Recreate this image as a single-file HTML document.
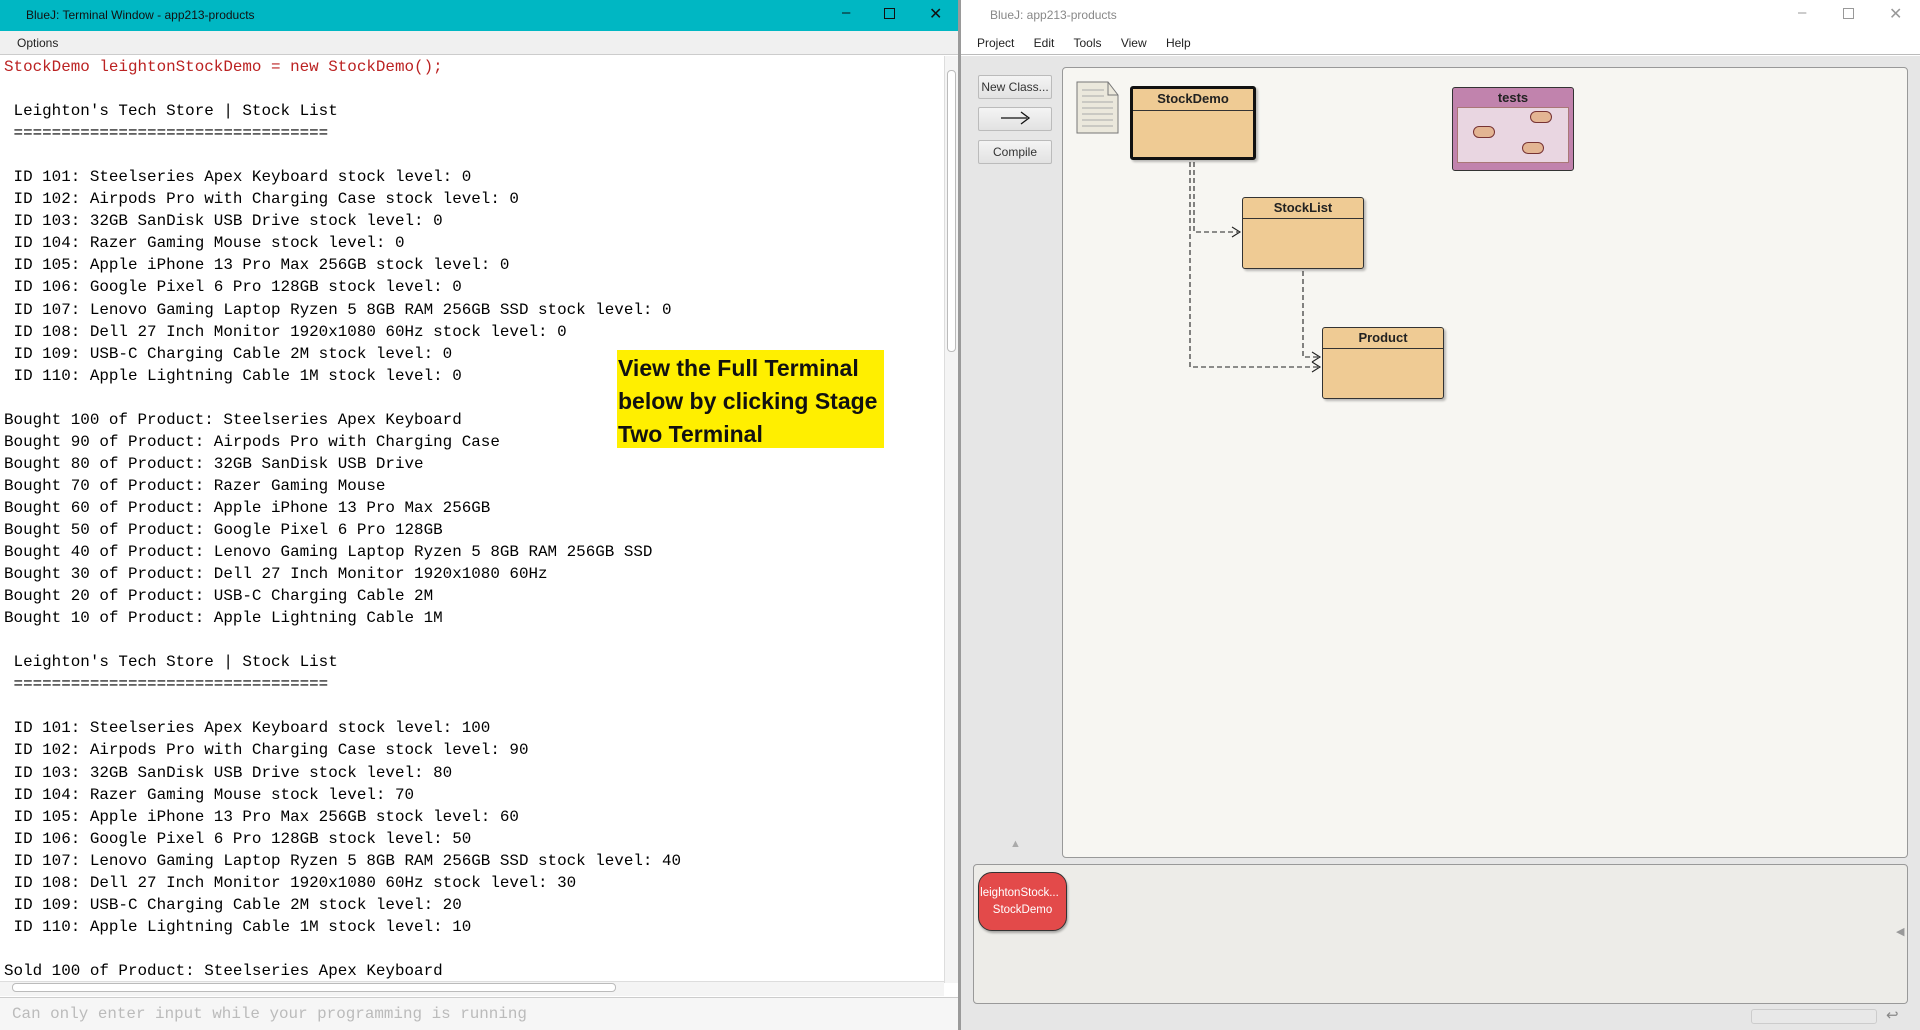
<!DOCTYPE html>
<html><head><meta charset="utf-8"><style>
*{margin:0;padding:0;box-sizing:border-box}
body{width:1920px;height:1030px;overflow:hidden;position:relative;background:#fff;font-family:"Liberation Sans",sans-serif}
.a{position:absolute}
pre{font-family:"Liberation Mono",monospace;font-size:15.9px;line-height:22.04px;color:#000}
.cls{position:absolute;background:#efcb94;border:1.5px solid #333;border-radius:3px;box-shadow:2px 2px 2px rgba(0,0,0,.25)}
.cls .h{height:26px;border-bottom:1.5px solid #333;text-align:center;font-weight:bold;font-size:13px;line-height:25px;color:#222}
.btn{position:absolute;left:978px;width:74px;height:24px;border:1px solid #bbb;border-radius:2px;background:linear-gradient(#f4f4f4,#e2e2e2);font-size:12px;text-align:center;line-height:22px;color:#333}
</style></head><body>
<!-- left window -->
<div class="a" style="left:0;top:0;width:960px;height:31px;background:#00b7c3"></div>
<div class="a" style="left:26px;top:8px;font-size:12px;color:#111">BlueJ: Terminal Window - app213-products</div>
<div class="a" style="left:842px;top:4px;font-size:15px;color:#111">–</div>
<div class="a" style="left:884px;top:8px;width:11px;height:11px;border:1px solid #111"></div>
<div class="a" style="left:929px;top:4px;font-size:16px;color:#111">✕</div>
<div class="a" style="left:0;top:31px;width:960px;height:24px;background:#f0f0f0;border-bottom:1px solid #ccc"></div>
<div class="a" style="left:17px;top:36px;font-size:12px;color:#222">Options</div>
<pre class="a" style="left:4px;top:56px"><span style="color:#b22">StockDemo leightonStockDemo = new StockDemo();</span>

 Leighton's Tech Store | Stock List
 =================================

 ID 101: Steelseries Apex Keyboard stock level: 0
 ID 102: Airpods Pro with Charging Case stock level: 0
 ID 103: 32GB SanDisk USB Drive stock level: 0
 ID 104: Razer Gaming Mouse stock level: 0
 ID 105: Apple iPhone 13 Pro Max 256GB stock level: 0
 ID 106: Google Pixel 6 Pro 128GB stock level: 0
 ID 107: Lenovo Gaming Laptop Ryzen 5 8GB RAM 256GB SSD stock level: 0
 ID 108: Dell 27 Inch Monitor 1920x1080 60Hz stock level: 0
 ID 109: USB-C Charging Cable 2M stock level: 0
 ID 110: Apple Lightning Cable 1M stock level: 0

Bought 100 of Product: Steelseries Apex Keyboard
Bought 90 of Product: Airpods Pro with Charging Case
Bought 80 of Product: 32GB SanDisk USB Drive
Bought 70 of Product: Razer Gaming Mouse
Bought 60 of Product: Apple iPhone 13 Pro Max 256GB
Bought 50 of Product: Google Pixel 6 Pro 128GB
Bought 40 of Product: Lenovo Gaming Laptop Ryzen 5 8GB RAM 256GB SSD
Bought 30 of Product: Dell 27 Inch Monitor 1920x1080 60Hz
Bought 20 of Product: USB-C Charging Cable 2M
Bought 10 of Product: Apple Lightning Cable 1M

 Leighton's Tech Store | Stock List
 =================================

 ID 101: Steelseries Apex Keyboard stock level: 100
 ID 102: Airpods Pro with Charging Case stock level: 90
 ID 103: 32GB SanDisk USB Drive stock level: 80
 ID 104: Razer Gaming Mouse stock level: 70
 ID 105: Apple iPhone 13 Pro Max 256GB stock level: 60
 ID 106: Google Pixel 6 Pro 128GB stock level: 50
 ID 107: Lenovo Gaming Laptop Ryzen 5 8GB RAM 256GB SSD stock level: 40
 ID 108: Dell 27 Inch Monitor 1920x1080 60Hz stock level: 30
 ID 109: USB-C Charging Cable 2M stock level: 20
 ID 110: Apple Lightning Cable 1M stock level: 10

Sold 100 of Product: Steelseries Apex Keyboard</pre>
<div class="a" style="left:944px;top:56px;width:16px;height:927px;background:#f4f4f4;border-left:1px solid #ddd"></div>
<div class="a" style="left:947px;top:70px;width:9px;height:282px;background:#fff;border:1px solid #bbb;border-radius:4px"></div>
<div class="a" style="left:0;top:981px;width:944px;height:15px;background:#f4f4f4;border-top:1px solid #ddd"></div>
<div class="a" style="left:12px;top:983px;width:604px;height:9px;background:#fff;border:1px solid #bbb;border-radius:4px"></div>
<div class="a" style="left:0;top:997px;width:960px;height:33px;background:#f6f6f6;border-top:1px solid #ccc"></div>
<pre class="a" style="left:12px;top:1003px;color:#bbb;font-size:15.9px">Can only enter input while your programming is running</pre>
<div class="a" style="left:617px;top:350px;width:267px;height:98px;background:#ffef00;font-weight:bold;font-size:23px;line-height:33px;padding:2px 0 0 1px;color:#111">View the Full Terminal<br>below by clicking Stage<br>Two Terminal</div>
<div class="a" style="left:958px;top:0;width:3px;height:1030px;background:#9a9a9a"></div>
<!-- right window -->
<div class="a" style="left:961px;top:0;width:959px;height:31px;background:#fff"></div>
<div class="a" style="left:990px;top:8px;font-size:12px;color:#888">BlueJ:  app213-products</div>
<div class="a" style="left:1798px;top:4px;font-size:15px;color:#999">–</div>
<div class="a" style="left:1843px;top:8px;width:11px;height:11px;border:1px solid #999"></div>
<div class="a" style="left:1889px;top:4px;font-size:16px;color:#999">✕</div>
<div class="a" style="left:961px;top:31px;width:959px;height:24px;background:#fff;border-bottom:1px solid #bbb"></div>
<div class="a" style="left:977px;top:36px;font-size:12px;color:#222;word-spacing:16px">Project Edit Tools View Help</div>
<div class="a" style="left:961px;top:56px;width:959px;height:974px;background:#e6e6e6"></div>
<div class="btn" style="top:75px">New Class...</div>
<div class="btn" style="top:107px"><svg width="40" height="20" viewBox="0 0 40 20"><path d="M6 10H32M26 4L34 10L26 16" fill="none" stroke="#111" stroke-width="1.3"/></svg></div>
<div class="btn" style="top:140px">Compile</div>
<div class="a" style="left:1010px;top:838px;font-size:11px;color:#aaa">▲</div>
<div class="a" style="left:1062px;top:67px;width:846px;height:791px;background:#f7f6f2;border:1px solid #999;border-radius:4px"></div>
<svg class="a" style="left:1076px;top:81px" width="44" height="54"><path d="M1 1H32L42 14V52H1Z" fill="#ebe8dc" stroke="#777"/><path d="M32 1V14H42" fill="none" stroke="#777"/><g stroke="#aaa"><path d="M6 9H28M6 15H28M6 21H37M6 27H37M6 33H37M6 39H37M6 45H37"/></g></svg>
<div class="cls" style="left:1130px;top:86px;width:126px;height:74px;border:3.5px solid #111"><div class="h" style="border-bottom-width:1.5px;height:22px;line-height:20px">StockDemo</div></div>
<div class="a" style="left:1452px;top:87px;width:122px;height:84px;background:#c183ad;border:1.5px solid #333;border-radius:3px"><div style="text-align:center;font-weight:bold;font-size:13px;line-height:19px;color:#222">tests</div><div style="margin:0 4px;height:56px;background:#e9d6e1;border:1px solid #a77;position:relative"><span class="a" style="left:15px;top:18px;width:22px;height:12px;background:#e3b593;border:1px solid #733;border-radius:6px"></span><span class="a" style="left:72px;top:3px;width:22px;height:12px;background:#e3b593;border:1px solid #733;border-radius:6px"></span><span class="a" style="left:64px;top:34px;width:22px;height:12px;background:#e3b593;border:1px solid #733;border-radius:6px"></span></div></div>
<div class="cls" style="left:1242px;top:197px;width:122px;height:72px"><div class="h" style="height:21px;line-height:20px">StockList</div></div>
<div class="cls" style="left:1322px;top:327px;width:122px;height:72px"><div class="h" style="height:21px;line-height:20px">Product</div></div>
<svg class="a" style="left:0;top:0" width="1920" height="1030"><g fill="none" stroke="#222" stroke-width="1.1" stroke-dasharray="5,3"><path d="M1194 162V232H1238"/><path d="M1190 162V367H1318"/><path d="M1303 271V357H1318"/></g><g fill="none" stroke="#222" stroke-width="1.1"><path d="M1232 227L1240 232L1232 237"/><path d="M1312 352L1320 357L1312 362"/><path d="M1312 362L1320 367L1312 372"/></g></svg>
<div class="a" style="left:973px;top:864px;width:935px;height:140px;background:#edece8;border:1px solid #999;border-radius:4px"></div>
<div class="a" style="left:978px;top:872px;width:89px;height:59px;background:#e34a4a;border:1.5px solid #333;border-radius:14px;color:#fff;font-size:11.5px;text-align:center;line-height:17px;padding-top:12px;overflow:hidden;white-space:nowrap;box-shadow:1px 2px 2px rgba(0,0,0,.3)"><div style="margin-left:-6px">leightonStock...</div>StockDemo</div>
<div class="a" style="left:1896px;top:925px;font-size:11px;color:#999">◀</div>
<div class="a" style="left:1751px;top:1009px;width:126px;height:15px;border:1px solid #ccc;border-radius:3px;background:#e8e8e8"></div>
<div class="a" style="left:1886px;top:1006px;font-size:15px;color:#888">↩</div>
</body></html>
